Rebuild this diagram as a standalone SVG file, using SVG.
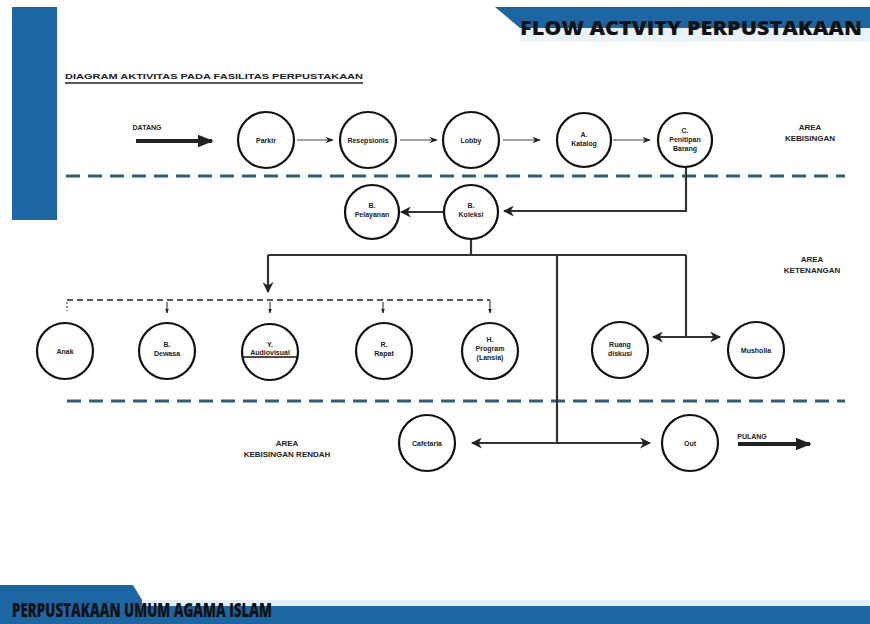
<svg xmlns="http://www.w3.org/2000/svg" width="870" height="624" viewBox="0 0 870 624">
<style>
.n{fill:#fff;stroke:#111;stroke-width:2.2}
.t{font-family:"Liberation Sans",Arial,sans-serif;font-size:7px;font-weight:bold;fill:#222;text-anchor:middle}
.a{font-family:"Liberation Sans",Arial,sans-serif;font-size:8px;font-weight:bold;fill:#222;text-anchor:middle}
.c{fill:none;stroke:#333;stroke-width:2.2}
.thin{fill:none;stroke:#444;stroke-width:1.2}
.zone{stroke:#2f5f78;stroke-width:3;stroke-dasharray:14 8;fill:none}
.dd{fill:none;stroke:#222;stroke-width:1.5;stroke-dasharray:6 4}
.big{font-family:"Open Sans","Liberation Sans",Arial,sans-serif;font-weight:800;fill:#111}
</style>
<defs>
<marker id="ah" viewBox="0 0 10 10" refX="9" refY="5" markerWidth="5" markerHeight="5" orient="auto" markerUnits="strokeWidth"><path d="M0,0 L10,5 L0,10 L3,5 z" fill="#222"/></marker>
<marker id="ahs" viewBox="0 0 10 10" refX="9" refY="5" markerWidth="7" markerHeight="7" orient="auto" markerUnits="strokeWidth"><path d="M0,1 L10,5 L0,9 L3,5 z" fill="#222"/></marker>
<marker id="ahd" viewBox="0 0 10 10" refX="9" refY="5" markerWidth="4" markerHeight="4" orient="auto" markerUnits="strokeWidth"><path d="M0,1 L10,5 L0,9 z" fill="#222"/></marker>
</defs>
<rect width="870" height="624" fill="#fff"/>
<g id="decor">
<rect x="12" y="7" width="45" height="213" fill="#1b66a3"/>
<polygon points="495,7 870,7 870,28 520,28" fill="#1b66a3"/>
<rect x="520" y="28" width="350" height="14" fill="#eaf3fa"/>
<text x="862" y="35" class="big" font-size="20" text-anchor="end" textLength="342" lengthAdjust="spacingAndGlyphs">FLOW ACTVITY PERPUSTAKAAN</text>
<polygon points="0,585 133,585 142,600 870,600 870,624 0,624" fill="#1b66a3"/>
<rect x="142" y="600" width="728" height="6" fill="#e2eef8"/>
<text x="12" y="617" class="big" font-size="19" textLength="260" lengthAdjust="spacingAndGlyphs">PERPUSTAKAAN UMUM AGAMA ISLAM</text>
<text x="65" y="79" font-family="Liberation Sans,Arial,sans-serif" font-size="8" font-weight="bold" fill="#222" textLength="298" lengthAdjust="spacingAndGlyphs">DIAGRAM AKTIVITAS PADA FASILITAS PERPUSTAKAAN</text>
<line x1="65" y1="83" x2="363" y2="83" stroke="#222" stroke-width="1.5"/>
<text x="810" y="130" class="a">AREA</text>
<text x="810" y="141" class="a">KEBISINGAN</text>
<text x="812" y="262" class="a">AREA</text>
<text x="812" y="273" class="a">KETENANGAN</text>
<text x="287" y="446" class="a">AREA</text>
<text x="287" y="457" class="a">KEBISINGAN RENDAH</text>
<text x="147" y="130" class="t">DATANG</text>
<text x="752" y="439" class="t">PULANG</text>
<line x1="66" y1="176" x2="845" y2="176" class="zone"/>
<line x1="67" y1="401" x2="845" y2="401" class="zone"/>
</g>
<g id="connectors">
<line x1="136" y1="141" x2="212" y2="141" stroke="#222" stroke-width="4" marker-end="url(#ahd)"/>
<line x1="738" y1="444" x2="810" y2="444" stroke="#222" stroke-width="4" marker-end="url(#ahd)"/>
<line x1="297" y1="140" x2="333" y2="140" class="thin" marker-end="url(#ahs)"/>
<line x1="400" y1="140" x2="437" y2="140" class="thin" marker-end="url(#ahs)"/>
<line x1="503" y1="140" x2="540" y2="140" class="thin" marker-end="url(#ahs)"/>
<line x1="613" y1="140" x2="650" y2="140" class="thin" marker-end="url(#ahs)"/>
<polyline points="686,167 686,211 504,211" class="c" marker-end="url(#ah)"/>
<line x1="443" y1="212" x2="401" y2="212" class="c" marker-end="url(#ah)"/>
<polyline points="471,239 471,255" class="c"/>
<line x1="268" y1="255" x2="686" y2="255" class="c"/>
<line x1="268" y1="255" x2="268" y2="292" class="c" marker-end="url(#ah)"/>
<line x1="557" y1="255" x2="557" y2="443" class="c"/>
<line x1="686" y1="255" x2="686" y2="337" class="c"/>
<line x1="686" y1="337" x2="653" y2="337" class="c" marker-end="url(#ah)"/>
<line x1="686" y1="337" x2="720" y2="337" class="c" marker-end="url(#ah)"/>
<line x1="557" y1="443" x2="472" y2="443" class="c" marker-end="url(#ah)"/>
<line x1="557" y1="443" x2="650" y2="443" class="c" marker-end="url(#ah)"/>
<line x1="67" y1="300" x2="490" y2="300" class="dd"/>
<line x1="67" y1="302" x2="67" y2="311" class="thin" stroke-dasharray="2 2"/>
<line x1="167" y1="302" x2="167" y2="313" class="thin" marker-end="url(#ahd)"/>
<line x1="270" y1="302" x2="270" y2="313" class="thin" marker-end="url(#ahd)"/>
<line x1="383" y1="302" x2="383" y2="313" class="thin" marker-end="url(#ahd)"/>
<line x1="490" y1="300" x2="490" y2="313" class="thin" marker-end="url(#ahd)"/>
</g>
<g id="parkir"><circle cx="266" cy="140" r="28" class="n"/><text x="266" y="143" class="t">Parkir</text></g>
<g id="resepsionis"><circle cx="368" cy="140" r="28" class="n"/><text x="368" y="143" class="t">Resepsionis</text></g>
<g id="lobby"><circle cx="471" cy="140" r="28" class="n"/><text x="471" y="143" class="t">Lobby</text></g>
<g id="katalog"><circle cx="584" cy="140" r="27" class="n"/><text x="584" y="137" class="t">A.</text><text x="584" y="146" class="t">Katalog</text></g>
<g id="penitipan"><circle cx="685" cy="140" r="27" class="n"/><text x="685" y="133" class="t">C.</text><text x="685" y="142" class="t">Penitipan</text><text x="685" y="151" class="t">Barang</text></g>
<g id="pelayanan"><circle cx="372" cy="212" r="27" class="n"/><text x="372" y="208" class="t">B.</text><text x="372" y="217" class="t">Pelayanan</text></g>
<g id="koleksi"><circle cx="471" cy="212" r="27" class="n"/><text x="471" y="208" class="t">B.</text><text x="471" y="217" class="t">Koleksi</text></g>
<g id="anak"><circle cx="65" cy="351" r="28" class="n"/><text x="65" y="354" class="t">Anak</text></g>
<g id="dewasa"><circle cx="167" cy="351" r="28" class="n"/><text x="167" y="347" class="t">B.</text><text x="167" y="356" class="t">Dewasa</text></g>
<g id="audiovisual"><circle cx="270" cy="352" r="28" class="n"/><text x="270" y="347" class="t">Y.</text><text x="270" y="355" class="t">Audiovisual</text><line x1="242" y1="357" x2="298" y2="357" stroke="#111" stroke-width="1.5"/></g>
<g id="rapat"><circle cx="384" cy="351" r="28" class="n"/><text x="384" y="347" class="t">R.</text><text x="384" y="356" class="t">Rapat</text></g>
<g id="program"><circle cx="490" cy="351" r="28" class="n"/><text x="490" y="342" class="t">H.</text><text x="490" y="351" class="t">Program</text><text x="490" y="360" class="t">(Lansia)</text></g>
<g id="diskusi"><circle cx="620" cy="350" r="28" class="n"/><text x="620" y="347" class="t">Ruang</text><text x="620" y="356" class="t">diskusi</text></g>
<g id="musholla"><circle cx="756" cy="350" r="28" class="n"/><text x="756" y="353" class="t">Musholla</text></g>
<g id="cafetaria"><circle cx="427" cy="443" r="28" class="n"/><text x="427" y="446" class="t">Cafetaria</text></g>
<g id="out"><circle cx="690" cy="443" r="28" class="n"/><text x="690" y="446" class="t">Out</text></g>
</svg>
